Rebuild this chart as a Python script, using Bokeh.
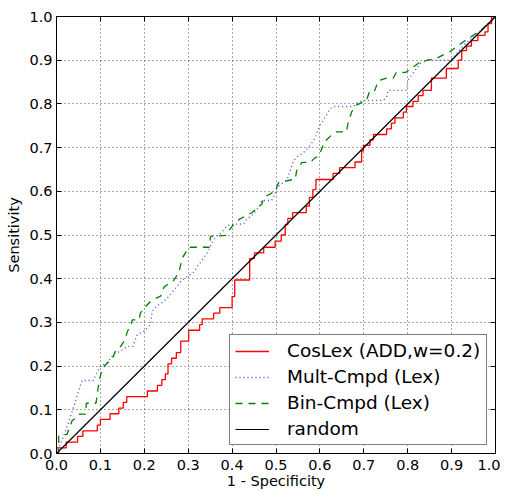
from bokeh.plotting import figure
from bokeh.models import LinearAxis, FixedTicker, PrintfTickFormatter, Legend, LegendItem
from bokeh.embed import file_html
from bokeh.resources import INLINE

# ---------------- data ----------------
tick_values = [0.0, 0.1, 0.2, 0.3, 0.4, 0.5, 0.6, 0.7, 0.8, 0.9, 1.0]

coslex_x = [0, 0, 0.022, 0.022, 0.048, 0.048, 0.06, 0.06, 0.093, 0.093, 0.1, 0.1,
            0.122, 0.122, 0.142, 0.142, 0.152, 0.152, 0.16, 0.16, 0.207, 0.207,
            0.23, 0.23, 0.24, 0.24, 0.248, 0.248, 0.254, 0.254, 0.262, 0.262,
            0.273, 0.273, 0.283, 0.283, 0.301, 0.301, 0.326, 0.326, 0.332, 0.332,
            0.358, 0.358, 0.372, 0.372, 0.4, 0.4, 0.406, 0.406, 0.44, 0.44,
            0.451, 0.451, 0.472, 0.472, 0.498, 0.498, 0.512, 0.512, 0.521, 0.521,
            0.527, 0.527, 0.538, 0.538, 0.569, 0.569, 0.576, 0.576, 0.584, 0.584,
            0.591, 0.591, 0.63, 0.63, 0.645, 0.645, 0.68, 0.68, 0.695, 0.695,
            0.699, 0.699, 0.714, 0.714, 0.722, 0.722, 0.752, 0.752, 0.763, 0.763,
            0.771, 0.771, 0.79, 0.79, 0.797, 0.797, 0.812, 0.812, 0.824, 0.824,
            0.835, 0.835, 0.854, 0.854, 0.888, 0.888, 0.915, 0.915, 0.923, 0.923,
            0.934, 0.934, 0.945, 0.945, 0.96, 0.96, 0.976, 0.976, 0.983, 0.983,
            0.991, 0.991, 1.0]
coslex_y = [0, 0.013, 0.013, 0.026, 0.026, 0.039, 0.039, 0.052, 0.052, 0.065, 0.065, 0.078,
            0.078, 0.091, 0.091, 0.104, 0.104, 0.117, 0.117, 0.13, 0.13, 0.143,
            0.143, 0.156, 0.156, 0.169, 0.169, 0.182, 0.182, 0.205, 0.205, 0.218,
            0.218, 0.231, 0.231, 0.257, 0.257, 0.282, 0.282, 0.295, 0.295, 0.308,
            0.308, 0.321, 0.321, 0.334, 0.334, 0.359, 0.359, 0.397, 0.397, 0.446,
            0.446, 0.459, 0.459, 0.472, 0.472, 0.486, 0.486, 0.5, 0.5, 0.524,
            0.524, 0.538, 0.538, 0.551, 0.551, 0.566, 0.566, 0.586, 0.586, 0.604,
            0.604, 0.627, 0.627, 0.641, 0.641, 0.654, 0.654, 0.667, 0.667, 0.692,
            0.692, 0.705, 0.705, 0.718, 0.718, 0.73, 0.73, 0.743, 0.743, 0.756,
            0.756, 0.768, 0.768, 0.781, 0.781, 0.794, 0.794, 0.806, 0.806, 0.819,
            0.819, 0.831, 0.831, 0.859, 0.859, 0.881, 0.881, 0.9, 0.9, 0.922,
            0.922, 0.932, 0.932, 0.945, 0.945, 0.957, 0.957, 0.965, 0.965, 0.984,
            0.984, 1.0, 1.0]

multcmpd_x = [0, 0.021, 0.036, 0.048, 0.058, 0.084, 0.093, 0.1, 0.115, 0.131, 0.146,
              0.161, 0.174, 0.184, 0.2, 0.214, 0.218, 0.229, 0.24, 0.252, 0.262,
              0.273, 0.284, 0.298, 0.313, 0.322, 0.334, 0.345, 0.355, 0.364, 0.376,
              0.386, 0.396, 0.426, 0.434, 0.445, 0.46, 0.468, 0.49, 0.498, 0.502,
              0.513, 0.525, 0.532, 0.54, 0.551, 0.563, 0.574, 0.585, 0.593, 0.597,
              0.604, 0.615, 0.623, 0.634, 0.676, 0.683, 0.699, 0.744, 0.752, 0.755,
              0.797, 0.801, 0.814, 0.829, 0.845, 0.897, 0.913, 0.928, 0.943, 0.958,
              0.974, 0.991, 1.0]
multcmpd_y = [0, 0.052, 0.097, 0.135, 0.167, 0.167, 0.188, 0.2, 0.207, 0.228, 0.234,
              0.245, 0.245, 0.272, 0.28, 0.295, 0.325, 0.338, 0.345, 0.355, 0.368,
              0.38, 0.395, 0.405, 0.415, 0.43, 0.445, 0.462, 0.484, 0.497, 0.505,
              0.518, 0.525, 0.525, 0.537, 0.544, 0.563, 0.579, 0.579, 0.594, 0.608,
              0.617, 0.626, 0.647, 0.67, 0.681, 0.689, 0.7, 0.715, 0.731, 0.746,
              0.757, 0.774, 0.789, 0.794, 0.794, 0.802, 0.808, 0.808, 0.816, 0.831,
              0.831, 0.855, 0.873, 0.893, 0.9, 0.9, 0.917, 0.935, 0.948, 0.961,
              0.974, 0.99, 1.0]

bincmpd_x = [0, 0.005, 0.005, 0.024, 0.036, 0.04, 0.052, 0.066, 0.068, 0.09, 0.097,
             0.101, 0.105, 0.116, 0.128, 0.135, 0.146, 0.154, 0.162, 0.169, 0.173,
             0.188, 0.191, 0.2, 0.214, 0.226, 0.237, 0.245, 0.267, 0.279, 0.286,
             0.301, 0.348, 0.351, 0.385, 0.4, 0.418, 0.445, 0.456, 0.468, 0.472,
             0.498, 0.506, 0.544, 0.547, 0.559, 0.578, 0.588, 0.597, 0.604, 0.61,
             0.626, 0.638, 0.66, 0.664, 0.672, 0.683, 0.706, 0.714, 0.725, 0.733,
             0.752, 0.767, 0.774, 0.795, 0.81, 0.829, 0.867, 0.897, 0.913, 0.928,
             0.943, 0.966, 0.985, 1.0]
bincmpd_y = [0, 0.0, 0.04, 0.044, 0.076, 0.078, 0.09, 0.09, 0.115, 0.115, 0.166,
             0.181, 0.196, 0.207, 0.219, 0.236, 0.245, 0.257, 0.28, 0.295, 0.306,
             0.306, 0.321, 0.333, 0.348, 0.355, 0.36, 0.381, 0.396, 0.415, 0.446,
             0.472, 0.472, 0.497, 0.499, 0.52, 0.537, 0.551, 0.56, 0.571, 0.586,
             0.6, 0.62, 0.628, 0.647, 0.666, 0.666, 0.676, 0.681, 0.696, 0.713,
             0.728, 0.736, 0.736, 0.755, 0.781, 0.797, 0.808, 0.831, 0.831, 0.853,
             0.859, 0.859, 0.872, 0.872, 0.883, 0.896, 0.905, 0.92, 0.932, 0.943,
             0.953, 0.968, 0.985, 1.0]

random_x = [0.0, 1.0]
random_y = [0.0, 1.0]

series_labels = ["CosLex (ADD,w=0.2)", "Mult-Cmpd (Lex)", "Bin-Cmpd (Lex)", "random"]

# ---------------- figure ----------------
FONT = "DejaVu Sans"
p = figure(width=500, height=491, x_range=(0, 1), y_range=(0, 1),
           output_backend="svg", toolbar_location=None,
           min_border_left=56, min_border_right=5, min_border_top=16, min_border_bottom=20,
           background_fill_color="white", border_fill_color="white")
p.outline_line_color = "black"
p.outline_line_width = 1

ticker = FixedTicker(ticks=tick_values)
fmt = PrintfTickFormatter(format="%.1f")

for ax in (p.xaxis[0], p.yaxis[0]):
    ax.ticker = ticker
    ax.formatter = fmt
    ax.major_tick_in = 5
    ax.major_tick_out = 0
    ax.minor_tick_line_color = None
    ax.axis_line_color = "black"
    ax.major_tick_line_color = "black"
    ax.major_label_text_font = FONT
    ax.major_label_text_font_size = "14.5px"
    ax.major_label_text_color = "black"
    ax.axis_label_text_font = FONT
    ax.axis_label_text_font_size = "14.5px"
    ax.axis_label_text_font_style = "normal"
    ax.axis_label_text_color = "black"

p.xaxis[0].axis_label = "1 - Specificity"
p.yaxis[0].axis_label = "Sensitivity"
p.xaxis[0].major_label_standoff = 6
p.xaxis[0].axis_label_standoff = 0
p.yaxis[0].major_label_standoff = 4
p.yaxis[0].axis_label_standoff = 4

for loc in ("right", "above"):
    ax = LinearAxis(ticker=ticker, formatter=fmt)
    ax.major_tick_in = 5
    ax.major_tick_out = 0
    ax.minor_tick_line_color = None
    ax.axis_line_color = "black"
    ax.major_label_text_color = None
    ax.major_label_text_alpha = 0
    ax.major_label_text_font_size = "0px"
    ax.major_label_standoff = 0
    p.add_layout(ax, loc)

p.grid.ticker = ticker
p.grid.grid_line_color = "black"
p.grid.grid_line_alpha = 0.7
p.grid.grid_line_dash = "1 3"
p.grid.grid_line_width = 1

r1 = p.line(coslex_x, coslex_y, line_color="#ff0000", line_width=1.3)
r2 = p.line(multcmpd_x, multcmpd_y, line_color="#0000ff", line_width=1.3,
            line_dash="1 3", line_alpha=0.75)
r3 = p.line(bincmpd_x, bincmpd_y, line_color="#008000", line_width=1.3,
            line_dash="7 6")
r4 = p.line(random_x, random_y, line_color="black", line_width=1.2)

legend = Legend(items=[LegendItem(label=series_labels[0], renderers=[r1]),
                       LegendItem(label=series_labels[1], renderers=[r2]),
                       LegendItem(label=series_labels[2], renderers=[r3]),
                       LegendItem(label=series_labels[3], renderers=[r4])],
                location="bottom_right")
legend.margin = 8
legend.padding = 5
legend.spacing = 5
legend.glyph_width = 34
legend.glyph_height = 18
legend.label_height = 18
legend.label_width = 194
legend.label_standoff = 18
legend.label_text_font = FONT
legend.label_text_font_size = "18.5px"
legend.label_text_color = "black"
legend.border_line_color = "black"
legend.border_line_width = 1
legend.background_fill_color = "white"
legend.background_fill_alpha = 1.0
p.add_layout(legend, "center")

open("out.html", "w").write(file_html(p, INLINE))
